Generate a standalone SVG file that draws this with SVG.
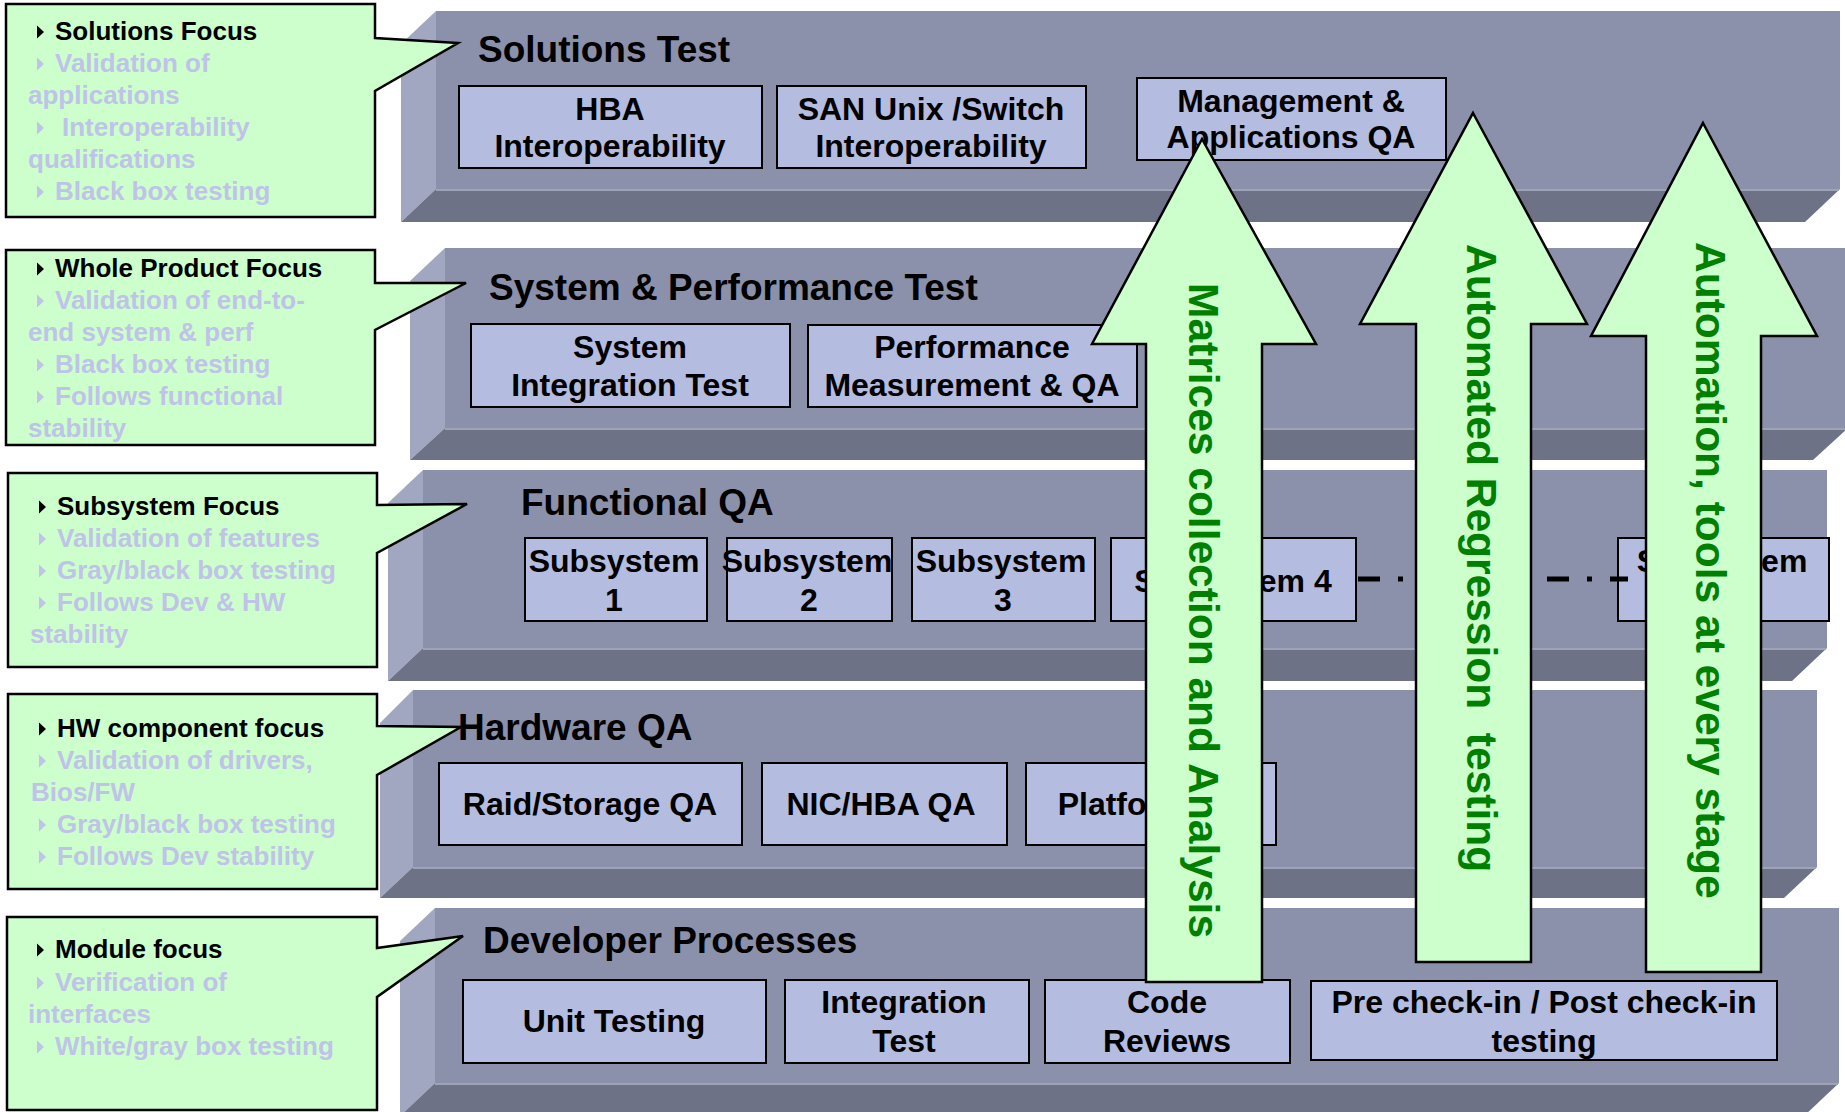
<svg xmlns="http://www.w3.org/2000/svg" width="1845" height="1112" viewBox="0 0 1845 1112">
<style>
.sf{fill:#8b91aa}
.sl{fill:#a2a7c1}
.sb{fill:#6d7287}
.hl{stroke:#9fa3b8;stroke-width:2;fill:none}
.box{fill:#b4bddf;stroke:#000;stroke-width:2}
.bt{font-family:"Liberation Sans",Arial,sans-serif;font-weight:bold;font-size:32px;text-anchor:middle;fill:#000}
.tt{font-family:"Liberation Sans",Arial,sans-serif;font-weight:bold;font-size:37px;fill:#000}
.call{fill:#ccffcc;stroke:#000;stroke-width:2.5;stroke-linejoin:miter}
.ct{font-family:"Liberation Sans",Arial,sans-serif;font-weight:bold;font-size:26px}
.ch{fill:#000}
.cg{fill:#bfc3e8}
.arr{fill:#ccffcc;stroke:#000;stroke-width:2.5;stroke-linejoin:miter}
.at{font-family:"Liberation Sans",Arial,sans-serif;font-weight:bold;font-size:42.5px;fill:#008000}
.dash{stroke:#000;stroke-width:5;stroke-dasharray:22 18 5 18;fill:none}
</style>
<defs>
  <polygon id="bul" points="0,-6.5 7,0 0,6.5"/>
</defs>

<!-- Layer slabs -->
<g id="layer-solutions">
  <rect class="sf" x="436" y="11" width="1404" height="178"/>
  <polygon class="sl" points="436,11 401,44 401,222 436,189"/>
  <polygon class="sb" points="436,189 1840,189 1805,222 401,222"/>
  <line class="hl" x1="436" y1="190" x2="1839" y2="190"/>
  <text class="tt" x="478" y="62">Solutions Test</text>
</g>
<g id="layer-system">
  <rect class="sf" x="445" y="248" width="1403" height="180"/>
  <polygon class="sl" points="445,248 410,281 410,460 445,428"/>
  <polygon class="sb" points="445,428 1848,428 1813,460 410,460"/>
  <line class="hl" x1="445" y1="429" x2="1845" y2="429"/>
  <text class="tt" x="489" y="300">System &amp; Performance Test</text>
</g>
<g id="layer-functional">
  <rect class="sf" x="423" y="470" width="1404" height="178"/>
  <polygon class="sl" points="423,470 388,503 388,681 423,648"/>
  <polygon class="sb" points="423,648 1827,648 1792,681 388,681"/>
  <line class="hl" x1="423" y1="649" x2="1826" y2="649"/>
  <text class="tt" x="521" y="515">Functional QA</text>
</g>
<g id="layer-hardware">
  <rect class="sf" x="413" y="690" width="1404" height="177"/>
  <polygon class="sl" points="413,690 380,723 380,898 413,867"/>
  <polygon class="sb" points="413,867 1817,867 1784,898 380,898"/>
  <line class="hl" x1="413" y1="868" x2="1816" y2="868"/>
  <text class="tt" x="458" y="740">Hardware QA</text>
</g>
<g id="layer-developer">
  <rect class="sf" x="435" y="908" width="1404" height="175"/>
  <polygon class="sl" points="435,908 400,941 400,1116 435,1083"/>
  <polygon class="sb" points="435,1083 1839,1083 1804,1116 400,1116"/>
  <line class="hl" x1="435" y1="1084" x2="1838" y2="1084"/>
  <text class="tt" x="483" y="953">Developer Processes</text>
</g>

<!-- Boxes -->
<g id="box-hba"><rect class="box" x="459" y="86" width="303" height="82"/><text class="bt" x="610" y="120">HBA</text><text class="bt" x="610" y="157">Interoperability</text></g>
<g id="box-san"><rect class="box" x="777" y="86" width="309" height="82"/><text class="bt" x="931" y="120">SAN Unix /Switch</text><text class="bt" x="931" y="157">Interoperability</text></g>
<g id="box-mgmt"><rect class="box" x="1137" y="78" width="309" height="82"/><text class="bt" x="1291" y="112">Management &amp;</text><text class="bt" x="1291" y="148">Applications QA</text></g>

<g id="box-sit"><rect class="box" x="471" y="324" width="319" height="83"/><text class="bt" x="630" y="358">System</text><text class="bt" x="630" y="396">Integration Test</text></g>
<g id="box-perf"><rect class="box" x="808" y="325" width="329" height="82"/><text class="bt" x="972" y="358">Performance</text><text class="bt" x="972" y="396">Measurement &amp; QA</text></g>

<g id="box-sub1"><rect class="box" x="525" y="538" width="182" height="83"/><text class="bt" x="614" y="572">Subsystem</text><text class="bt" x="614" y="611">1</text></g>
<g id="box-sub2"><rect class="box" x="727" y="538" width="165" height="83"/><text class="bt" x="807" y="572">Subsystem</text><text class="bt" x="809" y="611">2</text></g>
<g id="box-sub3"><rect class="box" x="912" y="538" width="183" height="83"/><text class="bt" x="1001" y="572">Subsystem</text><text class="bt" x="1003" y="611">3</text></g>
<g id="box-sub4"><rect class="box" x="1111" y="538" width="245" height="83"/><text class="bt" x="1233" y="592">Subsystem 4</text></g>
<g id="box-sub5"><rect class="box" x="1618" y="538" width="211" height="83"/><text class="bt" x="1722" y="572">Subsystem</text></g>

<g id="box-raid"><rect class="box" x="439" y="763" width="303" height="82"/><text class="bt" x="590" y="815">Raid/Storage QA</text></g>
<g id="box-nic"><rect class="box" x="762" y="763" width="245" height="82"/><text class="bt" x="881" y="815">NIC/HBA QA</text></g>
<g id="box-platform"><rect class="box" x="1026" y="763" width="250" height="82"/><text class="bt" x="1151" y="815">Platform QA</text></g>

<g id="box-unit"><rect class="box" x="463" y="980" width="303" height="83"/><text class="bt" x="614" y="1032">Unit Testing</text></g>
<g id="box-inttest"><rect class="box" x="785" y="980" width="244" height="83"/><text class="bt" x="904" y="1013">Integration</text><text class="bt" x="904" y="1052">Test</text></g>
<g id="box-code"><rect class="box" x="1045" y="980" width="245" height="83"/><text class="bt" x="1167" y="1013">Code</text><text class="bt" x="1167" y="1052">Reviews</text></g>
<g id="box-precheck"><rect class="box" x="1311" y="981" width="466" height="79"/><text class="bt" x="1544" y="1013">Pre check-in / Post check-in</text><text class="bt" x="1544" y="1052">testing</text></g>

<!-- Connectors -->
<g id="connectors">
  <line class="dash" x1="1358" y1="579" x2="1628" y2="579" stroke-dashoffset="0"/>
</g>

<!-- Callouts -->
<g id="callout-solutions">
  <path class="call" d="M6,4 H375 V38 L458,43 L375,91 V217 H6 Z"/>
  <use href="#bul" class="ch" x="37" y="32"/>
  <text class="ct ch" x="55" y="40">Solutions Focus</text>
  <use href="#bul" class="cg" x="37" y="64"/>
  <text class="ct cg" x="55" y="72">Validation of</text>
  <text class="ct cg" x="28" y="104">applications</text>
  <use href="#bul" class="cg" x="37" y="128"/>
  <text class="ct cg" x="62" y="136">Interoperability</text>
  <text class="ct cg" x="28" y="168">qualifications</text>
  <use href="#bul" class="cg" x="37" y="192"/>
  <text class="ct cg" x="55" y="200">Black box testing</text>
</g>
<g id="callout-wholeproduct">
  <path class="call" d="M6,250 H375 V283 L466,283 L375,330 V445 H6 Z"/>
  <use href="#bul" class="ch" x="37" y="269"/>
  <text class="ct ch" x="55" y="277">Whole Product Focus</text>
  <use href="#bul" class="cg" x="37" y="301"/>
  <text class="ct cg" x="55" y="309">Validation of end-to-</text>
  <text class="ct cg" x="28" y="341">end system &amp; perf</text>
  <use href="#bul" class="cg" x="37" y="365"/>
  <text class="ct cg" x="55" y="373">Black box testing</text>
  <use href="#bul" class="cg" x="37" y="397"/>
  <text class="ct cg" x="55" y="405">Follows functional</text>
  <text class="ct cg" x="28" y="437">stability</text>
</g>
<g id="callout-subsystem">
  <path class="call" d="M8,473 H377 V505 L467,504 L377,553 V667 H8 Z"/>
  <use href="#bul" class="ch" x="39" y="507"/>
  <text class="ct ch" x="57" y="515">Subsystem Focus</text>
  <use href="#bul" class="cg" x="39" y="539"/>
  <text class="ct cg" x="57" y="547">Validation of features</text>
  <use href="#bul" class="cg" x="39" y="571"/>
  <text class="ct cg" x="57" y="579">Gray/black box testing</text>
  <use href="#bul" class="cg" x="39" y="603"/>
  <text class="ct cg" x="57" y="611">Follows Dev &amp; HW</text>
  <text class="ct cg" x="30" y="643">stability</text>
</g>
<g id="callout-hw">
  <path class="call" d="M8,694 H377 V726 L461,727 L377,775 V889 H8 Z"/>
  <use href="#bul" class="ch" x="39" y="729"/>
  <text class="ct ch" x="57" y="737">HW component focus</text>
  <use href="#bul" class="cg" x="39" y="761"/>
  <text class="ct cg" x="57" y="769">Validation of drivers,</text>
  <text class="ct cg" x="31" y="801">Bios/FW</text>
  <use href="#bul" class="cg" x="39" y="825"/>
  <text class="ct cg" x="57" y="833">Gray/black box testing</text>
  <use href="#bul" class="cg" x="39" y="857"/>
  <text class="ct cg" x="57" y="865">Follows Dev stability</text>
</g>
<g id="callout-module">
  <path class="call" d="M7,917 H377 V948 L463,936 L377,997 V1110 H7 Z"/>
  <use href="#bul" class="ch" x="37" y="950"/>
  <text class="ct ch" x="55" y="958">Module focus</text>
  <use href="#bul" class="cg" x="37" y="983"/>
  <text class="ct cg" x="55" y="991">Verification of</text>
  <text class="ct cg" x="28" y="1023">interfaces</text>
  <use href="#bul" class="cg" x="37" y="1047"/>
  <text class="ct cg" x="55" y="1055">White/gray box testing</text>
</g>

<!-- Big arrows -->
<g id="arrow-matrices">
  <polygon class="arr" points="1202,139 1316,344 1262,344 1262,982 1146,982 1146,344 1092,344"/>
  <text class="at" transform="translate(1189,283) rotate(90)">Matrices collection and Analysis</text>
</g>
<g id="arrow-regression">
  <polygon class="arr" points="1473,113 1587,324 1531,324 1531,962 1416,962 1416,324 1360,324"/>
  <text class="at" transform="translate(1467,244) rotate(90)" xml:space="preserve">Automated Regression  testing</text>
</g>
<g id="arrow-automation">
  <polygon class="arr" points="1703,123 1817,336 1761,336 1761,972 1646,972 1646,336 1591,336"/>
  <text class="at" transform="translate(1696,242) rotate(90)">Automation, tools at every stage</text>
</g>
</svg>
